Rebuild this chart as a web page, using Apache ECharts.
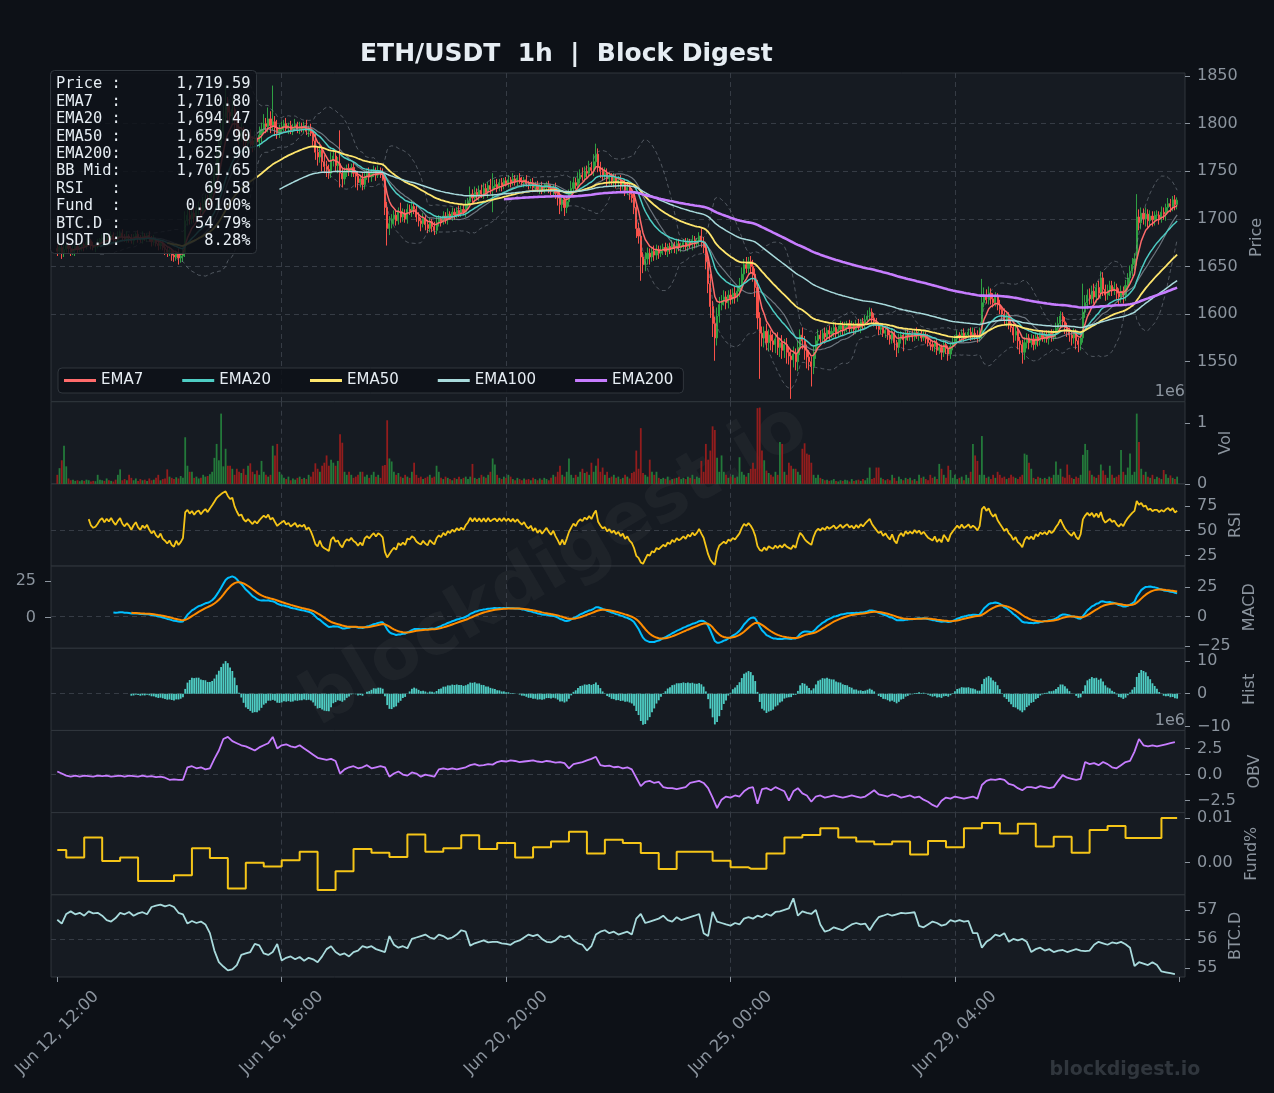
<!DOCTYPE html>
<html>
<head>
<meta charset="utf-8">
<title>ETH/USDT 1h | Block Digest</title>
<script src="https://cdn.jsdelivr.net/npm/echarts@6/dist/echarts.min.js"></script>
<style>
  html, body { margin: 0; padding: 0; background: #0d1117; }
  #chart { width: 1274px; height: 1093px; }
</style>
</head>
<body>
<div id="chart"></div>
<script>
// hourly candles, first one is Jun 12 12:00 UTC
var startTime = Date.UTC(2023, 5, 12, 12);
var firstOpen = 1669;

var closes = [
  1666, 1670, 1664, 1668, 1672, 1669, 1665, 1667, 1671, 1668,
  1670, 1673, 1671, 1675, 1677, 1672, 1670, 1671, 1674, 1678,
  1680, 1677, 1681, 1679, 1683, 1680, 1678, 1682, 1685, 1681,
  1679, 1682, 1680, 1677, 1681, 1684, 1680, 1678, 1682, 1680,
  1683, 1679, 1676, 1678, 1674, 1672, 1675, 1670, 1668, 1665,
  1667, 1662, 1660, 1664, 1659, 1661, 1664, 1698, 1704, 1700,
  1706, 1702, 1709, 1712, 1708, 1715, 1720, 1717, 1726, 1735,
  1748, 1765, 1778, 1792, 1806, 1818, 1812, 1808, 1815, 1803,
  1795, 1788, 1792, 1784, 1780, 1786, 1782, 1778, 1785, 1781,
  1788, 1794, 1800, 1797, 1805, 1798, 1802, 1796, 1790, 1794,
  1797, 1800, 1795, 1798, 1793, 1796, 1799, 1794, 1797, 1795,
  1798, 1792, 1795, 1790, 1782, 1770, 1765, 1772, 1760, 1755,
  1752, 1748, 1762, 1766, 1756, 1758, 1748, 1742, 1749, 1753,
  1750, 1754, 1748, 1745, 1738, 1742, 1736, 1745, 1748, 1744,
  1748, 1751, 1746, 1750, 1748, 1744, 1712, 1690, 1695, 1700,
  1704, 1698, 1708, 1702, 1706, 1700, 1710, 1708, 1713, 1710,
  1702, 1698, 1695, 1700, 1694, 1690, 1697, 1692, 1688, 1696,
  1700, 1697, 1703, 1699, 1705, 1702, 1707, 1704, 1709, 1706,
  1710, 1707, 1714, 1718, 1726, 1722, 1728, 1724, 1730, 1726,
  1732, 1728, 1735, 1731, 1734, 1736, 1733, 1738, 1735, 1740,
  1737, 1741, 1738, 1742, 1739, 1743, 1740, 1738, 1741, 1737,
  1735, 1738, 1733, 1736, 1731, 1734, 1730, 1733, 1736, 1732,
  1729, 1733, 1727, 1722, 1715, 1720, 1712, 1718, 1726, 1732,
  1738, 1735, 1742, 1746, 1744, 1750, 1748, 1754, 1751, 1760,
  1768, 1755, 1750, 1746, 1748, 1742, 1745, 1740, 1743, 1738,
  1741, 1735, 1738, 1730, 1733, 1726, 1722, 1712, 1690, 1682,
  1660, 1652, 1658, 1664, 1660, 1666, 1662, 1668, 1664, 1667,
  1670, 1666, 1671, 1668, 1673, 1669, 1674, 1670, 1672, 1675,
  1671, 1676, 1673, 1678, 1674, 1677, 1682, 1676, 1670, 1655,
  1632, 1608, 1590, 1575, 1598, 1610, 1614, 1618, 1612, 1620,
  1616, 1622, 1618, 1624, 1630, 1642, 1652, 1648, 1655, 1650,
  1642, 1628, 1596, 1580, 1575, 1582, 1570, 1578, 1572, 1568,
  1574, 1565, 1570, 1562, 1568, 1560, 1556, 1552, 1558, 1550,
  1565, 1578, 1572, 1562, 1555, 1550, 1545, 1560, 1572, 1578,
  1574, 1580, 1576, 1583, 1579, 1582, 1586, 1580, 1584, 1588,
  1583, 1587, 1590, 1585, 1588, 1584, 1590, 1586, 1592, 1589,
  1594, 1598, 1602, 1596, 1592, 1588, 1584, 1586, 1580, 1583,
  1578, 1574, 1580, 1570, 1565, 1574, 1578, 1573, 1580, 1576,
  1579, 1576, 1581, 1577, 1580, 1575, 1578, 1574, 1570, 1568,
  1566, 1570, 1562, 1565, 1560, 1568, 1564, 1558, 1566, 1570,
  1574, 1578, 1575, 1580, 1576, 1578, 1581, 1577, 1580, 1578,
  1575, 1580, 1612, 1620, 1615, 1622, 1616, 1612, 1618, 1610,
  1605, 1600, 1594, 1598, 1590, 1586, 1578, 1582, 1572, 1568,
  1560, 1570, 1575, 1570, 1574, 1568, 1576, 1572, 1578, 1575,
  1578, 1574, 1580, 1576, 1579, 1585, 1590, 1598, 1592, 1586,
  1582, 1578, 1575, 1580, 1572, 1568, 1575, 1602, 1612, 1620,
  1616, 1624, 1618, 1628, 1622, 1638, 1626, 1620, 1625, 1630,
  1625, 1628, 1622, 1618, 1624, 1620, 1630, 1638, 1645, 1652,
  1658, 1702, 1696, 1706, 1700, 1705, 1698, 1703, 1699, 1704,
  1704, 1701, 1707, 1705, 1712, 1716, 1713, 1720, 1715, 1719.59
];

// wick length above / below the candle body, in USDT
var wickHi = [
  4,6,3,5,2,4,3,5,2,4, 3,4,2,5,3,2,4,3,5,2, 4,3,5,2,4,3,2,5,3,4, 3,5,2,4,3,2,4,3,5,3,
  2,4,3,5,2,4,3,2,4,3, 3,2,4,3,5,2,6,10,8,6, 5,7,4,6,5,8,6,5,9,7, 8,10,12,9,14,22,10,8,12,6,
  8,6,9,5,7,6,8,5,7,6, 9,7,10,6,12,8,38,6,8,5, 5,4,6,3,5,4,6,3,5,4, 4,6,3,5,4,8,6,9,5,7,
  6,5,8,6,5,7,35,6,5,4, 5,4,6,3,5,4,6,5,4,6, 4,5,3,6,4,5,4,6,8,5, 5,6,4,9,5,4,6,5,7,4,
  4,5,3,6,4,5,4,3,5,6, 4,3,5,4,6,3,5,4,3,5, 4,5,6,4,8,5,6,4,5,6, 6,5,4,7,14,5,6,4,5,3,
  4,5,3,6,4,3,5,4,3,5, 3,4,5,3,4,3,5,4,3,4, 4,3,5,4,6,5,4,6,5,8, 6,5,7,6,8,5,6,7,6,8,
  11,6,5,4,6,5,4,3,5,4, 4,5,3,4,5,4,6,5,4,6, 6,5,7,6,5,4,6,5,4,5, 4,5,3,4,5,3,4,5,3,4,
  5,4,3,5,4,3,4,8,5,6, 8,10,6,7,9,8,6,7,6,5, 6,5,7,6,8,7,6,8,5,6, 7,6,8,6,7,5,8,6,5,7,
  6,7,5,8,6,7,5,6,8,6, 7,6,8,5,6,7,5,6,5,6, 5,4,6,3,5,4,6,5,4,5, 4,5,3,4,5,3,4,5,3,4,
  5,6,5,4,5,4,3,5,4,3, 4,3,5,4,3,5,4,3,5,4, 3,4,3,5,4,3,4,3,5,4, 4,3,5,4,3,5,4,3,4,5,
  4,5,3,4,5,3,4,5,6,5, 5,6,25,8,6,7,5,6,5,4, 5,4,6,5,4,5,4,6,5,4, 5,6,5,4,5,4,5,4,3,5,
  4,5,3,4,5,6,7,5,4,5, 5,4,3,5,4,3,5,30,8,6, 7,6,8,5,7,7,6,5,6,5, 5,6,4,5,6,5,6,5,6,7,
  6,24,8,6,5,7,5,6,5,4, 5,4,6,5,4,6,5,4,5,3
];
var wickLo = [
  5,3,6,4,3,5,4,3,6,4, 3,4,5,3,2,4,3,5,2,3, 4,2,3,5,3,4,5,3,2,4, 3,4,5,3,4,2,5,3,4,3,
  4,3,5,4,3,5,4,3,6,5, 4,6,5,4,7,5,6,4,5,6, 5,6,4,5,6,4,5,6,4,5, 6,5,7,6,8,6,10,8,7,9,
  9,10,7,8,6,9,7,8,6,7, 6,8,5,7,6,8,5,9,6,5, 4,5,3,6,4,5,3,4,5,4, 5,4,6,3,5,8,9,6,10,7,
  8,6,5,7,6,8,15,9,6,5, 5,6,4,12,8,5,6,5,4,6, 5,4,6,3,5,4,8,18,7,5, 6,5,4,6,5,4,5,4,6,5,
  5,6,8,4,6,5,4,6,5,4, 4,5,3,4,5,3,4,5,3,4, 4,3,5,4,3,5,4,3,5,4, 5,4,6,5,24,4,5,4,6,4,
  3,4,5,3,4,5,3,4,5,3, 4,3,5,4,3,5,4,3,4,5, 4,5,6,8,10,7,9,6,5,4, 5,4,6,5,4,5,6,4,5,6,
  5,6,7,6,5,8,6,5,7,6, 5,6,4,6,5,6,5,7,10,8, 25,9,7,6,8,5,6,5,6,4, 5,4,6,5,4,5,6,4,5,4,
  4,5,4,6,5,4,5,6,6,8, 10,12,14,24,8,7,6,5,7,6, 6,5,7,5,6,5,6,5,7,6, 8,10,12,48,9,10,8,9,10,8,
  9,8,10,9,8,12,9,41,8,9, 10,8,9,10,12,9,21,8,7,6, 6,5,7,5,6,4,6,5,4,6, 5,4,6,5,4,6,5,4,6,5,
  4,5,4,6,5,4,6,5,4,5, 5,6,5,8,10,6,5,12,5,4, 4,5,4,3,5,4,3,5,4,6, 5,6,5,4,8,5,6,7,5,4,
  4,5,4,3,5,4,3,5,4,5, 5,4,6,5,4,5,6,5,4,6, 5,6,5,7,6,5,8,6,9,10, 12,8,6,7,5,6,5,6,5,4,
  5,4,6,5,4,5,6,5,6,7, 6,7,8,6,9,8,6,5,6,7, 6,5,7,6,5,6,7,6,5,6, 6,5,7,8,6,9,6,5,6,5,
  6,7,8,7,6,8,7,6,7,6, 6,7,5,6,7,5,6,5,6,5
];

// hourly volume, thousands of ETH
var volumeK = [
  150, 260, 390, 630, 290, 90, 60, 70, 50, 60,
  45, 60, 50, 70, 60, 40, 50, 45, 150, 70,
  60, 50, 90, 60, 50, 40, 70, 150, 240, 60,
  80, 60, 150, 100, 60, 90, 50, 80, 60, 70,
  50, 90, 60, 70, 100, 150, 60, 80, 90, 240,
  120, 100, 80, 110, 90, 130, 100, 770, 300, 200,
  200, 100, 120, 90, 100, 150, 120, 130, 160, 200,
  430, 660, 390, 1160, 290, 580, 300, 300, 250, 150,
  250, 200, 180, 250, 150, 300, 340, 200, 160, 220,
  150, 380, 200, 150, 120, 150, 630, 470, 660, 200,
  150, 100, 80, 120, 60, 90, 70, 100, 120, 80,
  100, 80, 150, 120, 200, 340, 250, 200, 300, 350,
  470, 300, 400, 350, 300, 380, 820, 680, 200, 150,
  200, 150, 100, 120, 150, 200, 200, 120, 150, 100,
  150, 200, 120, 150, 100, 300, 310, 1050, 420, 370,
  200, 150, 180, 120, 100, 150, 120, 100, 200, 350,
  150, 100, 120, 80, 100, 120, 150, 100, 120, 300,
  200, 100, 80, 120, 100, 80, 60, 100, 80, 120,
  80, 100, 120, 80, 120, 330, 100, 80, 100, 150,
  120, 100, 150, 200, 420, 320, 150, 100, 80, 120,
  100, 150, 120, 80, 60, 100, 80, 60, 90, 70,
  80, 60, 100, 80, 60, 90, 70, 100, 80, 60,
  100, 150, 120, 200, 300, 150, 120, 200, 420, 150,
  100, 150, 120, 200, 250, 180, 200, 150, 350, 200,
  300, 420, 200, 270, 150, 200, 100, 120, 150, 100,
  120, 80, 100, 150, 120, 90, 180, 200, 550, 250,
  920, 180, 150, 120, 400, 200, 150, 200, 100, 80,
  100, 80, 120, 60, 80, 90, 100, 120, 80, 100,
  80, 120, 100, 150, 80, 120, 100, 380, 200, 660,
  400, 550, 950, 890, 430, 200, 470, 200, 150, 100,
  120, 150, 100, 120, 440, 200, 150, 120, 180, 250,
  350, 250, 1250, 1260, 550, 390, 220, 180, 150, 120,
  200, 150, 690, 660, 200, 150, 350, 300, 250, 250,
  200, 150, 580, 670, 500, 480, 350, 150, 100, 150,
  100, 80, 60, 70, 50, 60, 80, 50, 40, 60,
  50, 70, 60, 40, 80, 50, 60, 70, 50, 80,
  60, 100, 270, 80, 100, 270, 270, 100, 80, 60,
  80, 60, 150, 100, 50, 120, 80, 60, 100, 80,
  100, 60, 80, 50, 150, 100, 120, 80, 60, 150,
  100, 120, 80, 330, 250, 150, 100, 300, 230, 100,
  150, 80, 100, 120, 60, 150, 100, 200, 660, 470,
  380, 150, 790, 150, 100, 120, 80, 150, 100, 200,
  150, 100, 120, 80, 100, 150, 120, 100, 80, 120,
  150, 500, 480, 350, 250, 100, 80, 120, 100, 80,
  100, 80, 120, 100, 150, 370, 150, 250, 120, 100,
  320, 150, 100, 80, 120, 100, 150, 480, 660, 560,
  220, 150, 120, 100, 150, 320, 220, 150, 100, 300,
  150, 100, 120, 150, 560, 200, 150, 270, 500, 150,
  200, 1160, 690, 250, 150, 200, 120, 100, 150, 80,
  120, 100, 80, 230, 160, 100, 140, 100, 80, 120
];

// on-balance volume every 2 hours, millions
var obvM = [
  0.3, 0.1, -0.1, -0.2, -0.1, -0.2, -0.1, -0.15, -0.2, -0.1,
  -0.15, -0.1, -0.2, -0.15, -0.1, -0.2, -0.1, -0.15, -0.2, -0.1,
  -0.2, -0.15, -0.25, -0.2, -0.3, -0.5, -0.45, -0.5, -0.5, 0.7,
  0.8, 0.6, 0.7, 0.5, 0.6, 1.5, 2.3, 3.4, 3.6, 3.2,
  3.0, 2.8, 2.7, 2.5, 2.3, 2.6, 2.8, 3.0, 3.6, 2.5,
  2.8, 2.9, 2.7, 2.6, 2.8, 2.5, 2.2, 1.9, 1.6, 1.5,
  1.4, 1.5, 1.3, 0.1, 0.5, 0.7, 0.8, 0.6, 0.7, 0.9,
  0.6, 0.7, 0.8, 0.7, -0.2, 0.1, 0.3, 0.0, -0.1, 0.2,
  0.1, -0.2, 0.0, -0.1, -0.2, 0.5, 0.6, 0.5, 0.6, 0.5,
  0.6, 0.7, 0.9, 1.0, 0.85, 0.9, 1.0, 0.95, 1.2, 1.3,
  1.25, 1.35, 1.3, 1.2, 1.25, 1.3, 1.35, 1.25, 1.2, 1.3,
  1.25, 1.15, 1.2, 1.1, 0.6, 1.0, 1.1, 1.2, 1.35, 1.5,
  1.7, 0.9, 0.8, 0.85, 0.7, 0.75, 0.6, 0.7, 0.5, -0.3,
  -1.1, -0.7, -0.6, -0.8, -0.7, -1.2, -1.3, -1.3, -1.4, -1.3,
  -1.2, -0.8, -0.7, -0.6, -0.8, -1.3, -2.2, -3.2, -2.4, -2.1,
  -2.2, -2.0, -2.1, -1.6, -1.3, -1.2, -2.8, -1.4, -1.3, -1.5,
  -1.2, -1.4, -1.6, -2.5, -1.6, -1.3, -1.8, -2.0, -2.6, -2.1,
  -2.0, -2.2, -2.1, -2.0, -2.1, -2.2, -2.1, -2.0, -2.1, -2.2,
  -2.1, -1.8, -1.5, -1.9, -2.0, -2.1, -1.9, -2.0, -2.2, -2.1,
  -2.0, -2.2, -2.1, -2.4, -2.6, -2.9, -3.1, -2.5, -2.2, -2.3,
  -2.1, -2.2, -2.3, -2.2, -2.1, -2.3, -1.0, -0.6, -0.45, -0.5,
  -0.4, -0.5, -0.9, -1.0, -1.3, -1.5, -1.2, -1.2, -1.3, -1.1,
  -1.2, -1.3, -1.2, -0.6, -0.05, -0.3, -0.4, -0.5, -0.4, 1.2,
  1.0, 1.1, 0.9, 1.2, 1.0, 0.7, 0.6, 0.9, 1.2, 1.3,
  2.2, 3.4, 2.8, 2.7, 2.8, 2.7, 2.8, 2.9, 3.0, 3.1
];

// BTC dominance every 2 hours, %
var btcDom = [
  56.66, 56.53, 56.86, 56.95, 56.85, 56.9, 56.8, 56.95, 56.88, 56.9,
  56.8, 56.65, 56.6, 56.72, 56.9, 56.85, 56.93, 56.8, 56.88, 56.92,
  56.85, 57.1, 57.15, 57.18, 57.12, 57.17, 57.1, 56.9, 56.85, 56.53,
  56.62, 56.55, 56.6, 56.5, 56.2, 55.6, 55.2, 55.05, 54.92, 54.95,
  55.1, 55.45, 55.5, 55.55, 55.83, 55.78, 55.5, 55.45, 55.55, 55.83,
  55.26, 55.35, 55.4, 55.3, 55.38, 55.25, 55.35, 55.3, 55.2, 55.4,
  55.65, 55.75, 55.55, 55.45, 55.5, 55.4, 55.55, 55.6, 55.75, 55.7,
  55.75, 55.65, 55.6, 55.55, 56.1, 55.8, 55.7, 55.75, 55.68, 56.0,
  56.05, 56.1, 56.15, 56.05, 56.0, 56.15, 56.1, 56.0, 56.05, 56.15,
  56.3, 56.25, 55.77, 55.85, 55.9, 55.95, 55.88, 55.9, 55.9, 55.85,
  55.83, 55.8, 55.9, 55.95, 56.05, 56.15, 56.1, 56.15, 56.0, 55.9,
  55.88, 55.95, 56.1, 56.05, 56.12, 55.95, 55.85, 55.8, 55.6, 55.75,
  56.15, 56.25, 56.3, 56.2, 56.25, 56.15, 56.2, 56.25, 56.15, 56.7,
  56.86, 56.55, 56.6, 56.65, 56.7, 56.8, 56.65, 56.6, 56.75, 56.65,
  56.7, 56.75, 56.8, 56.86, 56.2, 56.1, 56.93, 56.6, 56.55, 56.5,
  56.46, 56.55, 56.5, 56.7, 56.75, 56.7, 56.8, 56.75, 56.86, 56.8,
  56.93, 56.95, 57.0, 57.05, 57.4, 56.8, 56.95, 56.9, 56.86, 57.0,
  56.5, 56.25, 56.3, 56.4, 56.35, 56.3, 56.4, 56.5, 56.55, 56.5,
  56.53, 56.3, 56.55, 56.75, 56.8, 56.86, 56.8, 56.85, 56.9, 56.88,
  56.9, 56.92, 56.45, 56.4, 56.5, 56.6, 56.55, 56.46, 56.5, 56.65,
  56.6, 56.65, 56.6, 56.62, 56.2, 56.2, 55.7, 55.9, 56.0, 56.15,
  56.1, 56.2, 55.9, 56.0, 55.95, 56.0, 55.9, 55.55, 55.65, 55.7,
  55.6, 55.65, 55.55, 55.6, 55.62, 55.55, 55.6, 55.65, 55.6, 55.58,
  55.6, 55.8, 55.9, 55.85, 55.8, 55.88, 55.85, 55.9, 55.82, 55.7,
  55.07, 55.2, 55.15, 55.1, 55.2, 55.1, 54.88, 54.85, 54.82, 54.79
];

// funding rate (%) per 8h settlement; first block covers only 4 hours
var funding = [
  0.0028, 0.0011, 0.0056, 0.0003, 0.0011, -0.0042, -0.0042, -0.0029, 0.0032, 0.0010,
  -0.0059, -0.0001, -0.0009, 0.0005, 0.0024, -0.0062, -0.0020, 0.0030, 0.0022, 0.0012,
  0.0063, 0.0024, 0.0032, 0.0061, 0.0030, 0.0044, 0.0011, 0.0034, 0.0047, 0.0069,
  0.0020, 0.0051, 0.0044, 0.0021, -0.0015, 0.0024, 0.0024, 0.0004, -0.0011, -0.0014,
  0.0020, 0.0056, 0.0062, 0.0077, 0.0056, 0.0047, 0.0041, 0.0047, 0.0018, 0.0048,
  0.0034, 0.0077, 0.0089, 0.0065, 0.0087, 0.0036, 0.0058, 0.0022, 0.0073, 0.0082,
  0.0055, 0.0055, 0.0100
];

var infoRows = [
  ['Price', '1,719.59'], ['EMA7', '1,710.80'], ['EMA20', '1,694.47'],
  ['EMA50', '1,659.90'], ['EMA200', '1,625.90'], ['BB Mid', '1,701.65'],
  ['RSI', '69.58'], ['Fund', '0.0100%'], ['BTC.D', '54.79%'], ['USDT.D', '8.28%']
];

var emaSpans = [7, 20, 50, 100, 200];
var emaColors = ['#ff6b6b', '#4ecdc4', '#ffe66d', '#a8dadc', '#c77dff'];
var emaWidths = [1.5, 1.5, 1.8, 1.5, 2.6];
var xTicks = [0, 100, 200, 300, 400, 500];
var xLabels = [0, 100, 200, 300, 400];

var MONTHS = ['Jan','Feb','Mar','Apr','May','Jun','Jul','Aug','Sep','Oct','Nov','Dec'];
function pad2(n) { return n < 10 ? '0' + n : '' + n; }
function fmtHour(v) {
  var d = new Date(startTime + Math.round(v) * 3600000);
  return MONTHS[d.getUTCMonth()] + ' ' + d.getUTCDate() + ', ' + pad2(d.getUTCHours()) + ':' + pad2(d.getUTCMinutes());
}
function minus(s) { return s.charAt(0) === '-' ? '\u2212' + s.slice(1) : s; }

// ---- indicators from the closes ----
function ema(src, span, from) {
  var a = 2 / (span + 1), out = [], prev = null;
  for (var i = 0; i < src.length; i++) {
    if (i < from || src[i] == null) { out.push(null); continue; }
    prev = prev == null ? src[i] : a * src[i] + (1 - a) * prev;
    out.push(prev);
  }
  return out;
}
function pts(arr, start) {
  var out = [];
  for (var i = start; i < arr.length; i++) if (arr[i] != null) out.push([i, +arr[i].toFixed(4)]);
  return out;
}

var n = closes.length;
var opens = closes.map(function (c, i) { return i === 0 ? firstOpen : closes[i - 1]; });
var candles = closes.map(function (c, i) {
  var o = opens[i];
  return [i, o, c, Math.min(o, c) - wickLo[i], Math.max(o, c) + wickHi[i]];
});

var emaLines = emaSpans.map(function (s) { return ema(closes, s, 0); });

var bbMid = [], bbUp = [], bbLo = [];
for (var i = 0; i < n; i++) {
  if (i < 19) { bbMid.push(null); bbUp.push(null); bbLo.push(null); continue; }
  var s = 0, q = 0;
  for (var k = i - 19; k <= i; k++) s += closes[k];
  var m = s / 20;
  for (k = i - 19; k <= i; k++) q += (closes[k] - m) * (closes[k] - m);
  var sd = Math.sqrt(q / 19);
  bbMid.push(m); bbUp.push(m + 2 * sd); bbLo.push(m - 2 * sd);
}

var rsi = [];
var avgG = 0, avgL = 0;
for (i = 0; i < n; i++) {
  if (i === 0) { rsi.push(null); continue; }
  var d = closes[i] - closes[i - 1];
  var g = d > 0 ? d : 0, l = d < 0 ? -d : 0;
  if (i <= 14) {
    avgG += g / 14; avgL += l / 14;
    rsi.push(i === 14 ? 100 - 100 / (1 + avgG / avgL) : null);
  } else {
    avgG = (avgG * 13 + g) / 14; avgL = (avgL * 13 + l) / 14;
    rsi.push(avgL === 0 ? 100 : 100 - 100 / (1 + avgG / avgL));
  }
}

var e12 = ema(closes, 12, 0), e26 = ema(closes, 26, 0);
var macd = closes.map(function (c, i) { return i < 25 ? null : e12[i] - e26[i]; });
var sig = ema(macd, 9, 25).map(function (v, i) { return i < 33 ? null : v; });
var hist = macd.map(function (v, i) { return sig[i] == null ? null : v - sig[i]; });

var volData = volumeK.map(function (v, i) {
  return { value: [i, v / 1000], itemStyle: { color: closes[i] >= opens[i] ? '#23793a' : '#931d1d' } };
});
var obvData = obvM.map(function (v, k) { return [2 * k, v]; });
var btcData = btcDom.map(function (v, k) { return [2 * k, v]; });
var fundData = [];
for (i = 0; i < n; i++) fundData.push([i, funding[i < 4 ? 0 : 1 + Math.floor((i - 4) / 8)]]);

// ---- layout ----
var unit = (977 - 73) / 11;
var tops = [73], heights = [4 * unit];
for (i = 1; i < 8; i++) { tops.push(73 + (3 + i) * unit); heights.push(unit); }

var panels = [
  { name: 'Price', min: 1508, max: 1853.2, step: 50, ticks: [1550, 1600, 1650, 1700, 1750, 1800, 1850], gap: 56, fmt: function (v) { return String(v); } },
  { name: 'Vol', min: 0, max: 1.356, step: 1, ticks: [0, 1], gap: 22, fmt: function (v) { return String(v); } },
  { name: 'RSI', min: 14.3, max: 97.3, step: 25, ticks: [25, 50, 75], gap: 35, fmt: function (v) { return String(v); } },
  { name: 'MACD', min: -26.9, max: 42.5, step: 25, ticks: [-25, 0, 25], gap: 50, fmt: function (v) { return minus(String(v)); } },
  { name: 'Hist', min: -11.15, max: 13.8, step: 10, ticks: [-10, 0, 10], gap: 50, fmt: function (v) { return minus(String(v)); } },
  { name: 'OBV', min: -3.64, max: 4.22, step: 2.5, ticks: [-2.5, 0, 2.5], gap: 53, fmt: function (v) { return minus(v.toFixed(1)); } },
  { name: 'Fund%', min: -0.0073, max: 0.01122, step: 0.01, ticks: [0, 0.01], gap: 54, fmt: function (v) { return v.toFixed(2); } },
  { name: 'BTC.D', min: 54.69, max: 57.52, step: 1, ticks: [55, 56, 57], gap: 35, fmt: function (v) { return String(v); } }
];

var FONT = 'DejaVu Sans';
var GREY = '#8b949e';
var GRID_LINE = { color: '#363c45', type: [5, 4], width: 1 };

var grids = [], xAxes = [], yAxes = [];
panels.forEach(function (p, k) {
  grids.push({ left: 51, right: 89, top: tops[k], height: heights[k], show: true,
    outerBoundsMode: 'none', containLabel: false,
    backgroundColor: '#161b22', borderColor: '#30363d', borderWidth: 1 });
  var last = k === 7;
  xAxes.push({
    type: 'value', gridIndex: k, min: -2.8, max: 502.5, minInterval: 100, maxInterval: 100,
    axisLine: { show: false, onZero: false },
    axisTick: { show: last, customValues: xTicks, length: 5, lineStyle: { color: GREY } },
    axisLabel: { show: last, customValues: xLabels, rotate: 45, margin: 56, align: 'center',
      verticalAlign: 'middle', color: GREY, fontSize: 16.5, fontFamily: FONT, formatter: fmtHour },
    splitLine: { show: true, showMinLine: false, showMaxLine: false, lineStyle: GRID_LINE }
  });
  yAxes.push({
    type: 'value', gridIndex: k, position: 'right', min: p.min, max: p.max,
    minInterval: p.step, maxInterval: p.step,
    name: p.name, nameLocation: 'middle', nameRotate: 90, nameGap: p.gap,
    nameTextStyle: { color: GREY, fontSize: 16, fontFamily: FONT },
    axisLine: { show: false, onZero: false },
    axisTick: { show: true, customValues: p.ticks, length: 5, lineStyle: { color: GREY } },
    axisLabel: { customValues: p.ticks, color: GREY, fontSize: 16, fontFamily: FONT, margin: 12,
      formatter: p.fmt },
    splitLine: { show: true, showMinLine: false, showMaxLine: false, lineStyle: GRID_LINE }
  });
});
// second scale on the left of the MACD panel
yAxes.push({
  type: 'value', gridIndex: 3, position: 'left', min: -21.1, max: 35.2,
  axisLine: { show: false, onZero: false },
  axisTick: { show: true, customValues: [0, 25], length: 6, lineStyle: { color: GREY } },
  axisLabel: { customValues: [0, 25], color: GREY, fontSize: 16, fontFamily: FONT, margin: 15 },
  splitLine: { show: false }
});

function lineSeries(name, data, xi, color, width, extra) {
  var s = { name: name, type: 'line', xAxisIndex: xi, yAxisIndex: xi, data: data, color: color,
    showSymbol: false, symbol: 'none', lineStyle: { color: color, width: width }, z: 4, silent: true };
  for (var key in extra) s[key] = extra[key];
  return s;
}

var series = [];
series.push({
  name: 'Candles', type: 'candlestick', xAxisIndex: 0, yAxisIndex: 0, data: candles,
  dimensions: ['t', 'open', 'close', 'lowest', 'highest'],
  encode: { x: 't', y: ['open', 'close', 'lowest', 'highest'] },
  barWidth: 1.6,
  itemStyle: { color: '#2ea043', color0: '#f85149', borderColor: '#2ea043', borderColor0: '#f85149', borderWidth: 1 },
  z: 2, silent: true
});
series.push(lineSeries('BB Upper', pts(bbUp, 19), 0, 'rgba(139,148,158,0.5)', 1, { lineStyle: { color: 'rgba(139,148,158,0.5)', width: 1, type: [4, 3] }, z: 3 }));
series.push(lineSeries('BB Lower', pts(bbLo, 19), 0, 'rgba(139,148,158,0.5)', 1, { lineStyle: { color: 'rgba(139,148,158,0.5)', width: 1, type: [4, 3] }, z: 3 }));
series.push(lineSeries('BB Mid', pts(bbMid, 19), 0, 'rgba(139,148,158,0.75)', 1.2, { z: 3 }));
emaSpans.forEach(function (s, j) {
  series.push(lineSeries('EMA' + s, pts(emaLines[j], s - 1), 0, emaColors[j], emaWidths[j]));
});
series.push({ name: 'Volume', type: 'bar', xAxisIndex: 1, yAxisIndex: 1, data: volData, barWidth: 1.8, silent: true });
series.push(lineSeries('RSI', pts(rsi, 14), 2, '#f5c518', 1.8));
series.push(lineSeries('MACD', pts(macd, 25), 3, '#00bfff', 2));
series.push(lineSeries('Signal', pts(sig, 33), 3, '#ff8c00', 2));
series.push({ name: 'Hist', type: 'bar', xAxisIndex: 4, yAxisIndex: 4, data: pts(hist, 33), barWidth: 1.8,
  itemStyle: { color: '#4ecdc4' }, silent: true });
series.push(lineSeries('OBV', obvData, 5, '#c77dff', 1.8));
series.push(lineSeries('Funding', fundData, 6, '#f5c518', 2, { step: 'end' }));
series.push(lineSeries('BTC.D', btcData, 7, '#a8dadc', 1.8));

var infoText = infoRows.map(function (r) { return (r[0] + '      ').slice(0, 6) + ':' + ('              ' + r[1]).slice(-14); }).join('\n');

var chart = echarts.init(document.getElementById('chart'), null, { renderer: 'canvas' });
chart.setOption({
  backgroundColor: '#0d1117',
  animation: false,
  title: { text: 'ETH/USDT  1h  |  Block Digest', left: 355, top: 37,
    textStyle: { color: '#e6edf3', fontSize: 25, fontWeight: 'bold', fontFamily: FONT } },
  legend: {
    left: 58, top: 368, itemWidth: 32, itemHeight: 3, itemGap: 39, padding: [5, 10, 5, 6],
    backgroundColor: 'rgba(13,17,23,0.85)', borderColor: '#30363d', borderWidth: 1, borderRadius: 4,
    textStyle: { color: '#e6edf3', fontSize: 15, fontFamily: FONT },
    data: emaSpans.map(function (s) { return { name: 'EMA' + s, icon: 'rect' }; }),
    selectedMode: false, z: 20
  },
  grid: grids, xAxis: xAxes, yAxis: yAxes, series: series,
  graphic: [
    { type: 'text', x: 556, y: 566, rotation: 0.53, z: 1, silent: true,
      style: { text: 'blockdigest.io', fontSize: 72, fontWeight: 'bold', fontFamily: FONT,
        fill: 'rgba(255,255,255,0.035)', align: 'center', verticalAlign: 'middle' } },
    { type: 'rect', z: 100, silent: true, shape: { x: 50.5, y: 70.5, width: 206, height: 183, r: 4 },
      style: { fill: 'rgba(13,17,23,0.85)', stroke: '#30363d', lineWidth: 1 } },
    { type: 'text', z: 101, silent: true, x: 56, y: 75.5,
      style: { text: infoText, fontFamily: 'DejaVu Sans Mono', fontSize: 15.4, lineHeight: 17.44,
        fill: '#e6edf3', align: 'left', verticalAlign: 'top' } },
    { type: 'text', z: 101, silent: true, x: 1185, y: 392,
      style: { text: '1e6', fontFamily: FONT, fontSize: 16, fill: GREY, align: 'right', verticalAlign: 'middle' } },
    { type: 'text', z: 101, silent: true, x: 1185, y: 721,
      style: { text: '1e6', fontFamily: FONT, fontSize: 16, fill: GREY, align: 'right', verticalAlign: 'middle' } },
    { type: 'text', z: 101, silent: true, x: 1125, y: 1070,
      style: { text: 'blockdigest.io', fontFamily: FONT, fontSize: 19, fontWeight: 'bold', fill: '#30363d',
        align: 'center', verticalAlign: 'middle' } }
  ]
});
</script>
</body>
</html>
